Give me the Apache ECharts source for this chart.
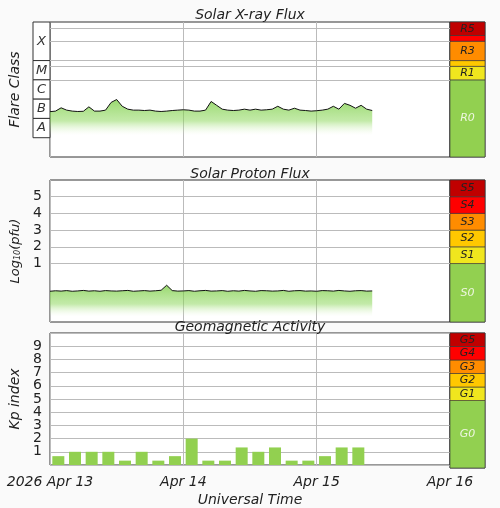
<!DOCTYPE html><html><head><meta charset="utf-8">
<script src="https://cdn.jsdelivr.net/npm/echarts@6/dist/echarts.min.js"></script>
<style>html,body{margin:0;background:#fafafa}#c{width:500px;height:508px}</style></head><body><div id="c"></div>
<script>
// hourly log10 X-ray flux (W/m2), from Apr 13 00 UT
const xrayLog=[-6.65,-6.62,-6.45,-6.57,-6.62,-6.64,-6.63,-6.4,-6.62,-6.62,-6.57,-6.17,-6.02,-6.37,-6.52,-6.57,-6.57,-6.59,-6.57,-6.62,-6.64,-6.62,-6.59,-6.57,-6.55,-6.57,-6.62,-6.62,-6.57,-6.12,-6.32,-6.52,-6.57,-6.59,-6.57,-6.52,-6.57,-6.52,-6.57,-6.55,-6.52,-6.37,-6.52,-6.57,-6.47,-6.57,-6.59,-6.62,-6.6,-6.57,-6.52,-6.37,-6.52,-6.22,-6.32,-6.47,-6.32,-6.52,-6.59];
const protonLog=[-0.66,-0.63,-0.65,-0.62,-0.66,-0.64,-0.61,-0.65,-0.63,-0.66,-0.62,-0.64,-0.65,-0.63,-0.61,-0.66,-0.64,-0.62,-0.65,-0.63,-0.6,-0.3,-0.62,-0.65,-0.64,-0.62,-0.66,-0.63,-0.61,-0.65,-0.64,-0.62,-0.66,-0.63,-0.65,-0.61,-0.64,-0.66,-0.62,-0.63,-0.65,-0.64,-0.61,-0.66,-0.63,-0.62,-0.65,-0.64,-0.66,-0.62,-0.63,-0.65,-0.61,-0.64,-0.66,-0.63,-0.62,-0.65,-0.64];
const kp=[0.67,1,1,1,0.33,1,0.33,0.67,2,0.33,0.33,1.33,1,1.33,0.33,0.33,0.67,1.33,1.33];
const dayLabels={0:'2026 Apr 13',24:'Apr 14',48:'Apr 15',72:'Apr 16'};
const rScale=[['R0',-9,-5,'#92d050'],['R1',-5,-4.3,'#f0e61e'],['',-4.3,-4,'#ffc800'],['R3',-4,-3,'#ff8c00'],['',-3,-2.7,'#ff0000'],['R5',-2.7,-2,'#c00000']];
const sScale=[['S0',-2.5,1,'#92d050'],['S1',1,2,'#f0e61e'],['S2',2,3,'#ffc800'],['S3',3,4,'#ff8c00'],['S4',4,5,'#ff0000'],['S5',5,6,'#c00000']];
const gScale=[['G0',0,5,'#92d050'],['G1',5,6,'#f0e61e'],['G2',6,7,'#ffc800'],['G3',7,8,'#ff8c00'],['G4',8,9,'#ff0000'],['G5',9,10,'#c00000']];
const flareBoxes=[['X',-4,-2],['M',-5,-4],['C',-6,-5],['B',-7,-6],['A',-8,-7]];
const xrayLines=[-2.3,-3,-4,-4.3,-5];
const protonLines=[1,2,3,4,5];

const ch=echarts.init(document.getElementById('c'));
const F='DejaVu Sans';
const panels=[[22,157],[180,322],[333,468]];
const grids=[],xAxes=[],yAxes=[],series=[];
panels.forEach((p,i)=>{
  grids.push({left:50,width:400,top:p[0],height:p[1]-p[0],show:true,backgroundColor:'#fff',borderColor:'#333',borderWidth:1});
  grids.push({left:450,width:35,top:p[0],height:p[1]-p[0],show:true,backgroundColor:'#fff',borderColor:'#333',borderWidth:1});
});
grids.push({left:33,width:17,top:22,height:135,show:false});
for(let i=0;i<3;i++){
  xAxes.push({gridIndex:2*i,type:'value',min:0,max:72,interval:24,axisLine:{show:false},axisTick:{show:false},
    splitLine:{show:true,lineStyle:{color:'#bbb'}},
    axisLabel:{show:i==2,formatter:v=>dayLabels[v]||'',fontFamily:F,fontSize:14,color:'#222',fontStyle:'italic',margin:10},
    name:i==2?'Universal Time':'',nameLocation:'middle',nameGap:28,nameTextStyle:{fontFamily:F,fontSize:14,fontStyle:'italic',color:'#222'}});
  xAxes.push({gridIndex:2*i+1,type:'value',min:0,max:1,show:false});
}
xAxes.push({gridIndex:6,type:'value',min:0,max:1,show:false});
const ycommon={axisLine:{show:false},axisTick:{show:false},nameLocation:'middle',nameRotate:90,nameTextStyle:{fontFamily:F,fontSize:14,fontStyle:'italic',color:'#222'}};
yAxes.push(Object.assign({gridIndex:0,type:'value',min:-9,max:-2,axisLabel:{show:false},splitLine:{show:false},name:'Flare Class',nameGap:28},ycommon));
yAxes.push({gridIndex:1,type:'value',min:-9,max:-2,show:false});
yAxes.push(Object.assign({gridIndex:2,type:'value',min:-2.5,max:6,interval:0.5,splitLine:{show:false},
  axisLabel:{formatter:v=>(v>=1&&v<=5&&v%1===0)?String(v):'',fontFamily:F,fontSize:14,color:'#222',margin:8},
  name:'Log{s|10}(pfu)',nameGap:26},ycommon,{nameTextStyle:{fontFamily:F,fontSize:13,fontStyle:'italic',color:'#222',rich:{s:{fontSize:8,fontStyle:'italic',color:'#222',verticalAlign:'bottom'}}}}));
yAxes.push({gridIndex:3,type:'value',min:-2.5,max:6,show:false});
yAxes.push(Object.assign({gridIndex:4,type:'value',min:0,max:10,interval:1,splitLine:{show:true,lineStyle:{color:'#bbb'}},
  axisLabel:{formatter:v=>(v>=1&&v<=9)?String(v):'',fontFamily:F,fontSize:14,color:'#222',margin:8},
  name:'Kp index',nameGap:26},ycommon));
yAxes.push({gridIndex:5,type:'value',min:0,max:10,show:false});
yAxes.push({gridIndex:6,type:'value',min:-9,max:-2,show:false});

function grad(stop){return new echarts.graphic.LinearGradient(0,0,0,1,[{offset:0,color:'rgba(110,200,50,1)'},{offset:stop*0.6,color:'rgba(140,215,90,0.75)'},{offset:stop,color:'rgba(220,245,200,0)'},{offset:1,color:'rgba(255,255,255,0)'}]);}
function hline(vals){return {silent:true,symbol:'none',label:{show:false},lineStyle:{color:'#bbb',type:'solid',width:1},data:vals.map(v=>({yAxis:v}))};}
series.push({type:'line',xAxisIndex:0,yAxisIndex:0,data:xrayLog.map((v,h)=>[h,v]),symbol:'none',lineStyle:{color:'#111',width:1},
  areaStyle:{origin:'start',color:grad(0.62)},markLine:hline(xrayLines),z:3});
series.push({type:'line',xAxisIndex:2,yAxisIndex:2,data:protonLog.map((v,h)=>[h,v]),symbol:'none',lineStyle:{color:'#111',width:1},
  areaStyle:{origin:'start',color:grad(0.85)},markLine:hline(protonLines),z:3});
series.push({type:'bar',xAxisIndex:4,yAxisIndex:4,data:kp.map((v,i)=>[i*3+1.5,v]),barWidth:12,itemStyle:{color:'#92d050'}});
function scaleSeries(xi,sc){return {type:'line',xAxisIndex:xi,yAxisIndex:xi,data:[],markArea:{silent:true,data:sc.map(s=>[{yAxis:s[1],itemStyle:{color:s[3],borderColor:'#333',borderWidth:0.6},
  label:{show:s[0]!=='',position:'inside',formatter:s[0]||' ',fontFamily:F,fontSize:11,fontStyle:'italic',color:s[0].endsWith('0')?'#eef6e0':'#222'}},{yAxis:s[2]}])}};}
series.push(scaleSeries(1,rScale),scaleSeries(3,sScale),scaleSeries(5,gScale));
series.push({type:'line',xAxisIndex:6,yAxisIndex:6,data:[],markArea:{silent:true,data:flareBoxes.map(b=>[{yAxis:b[1],itemStyle:{color:'#fff',borderColor:'#333',borderWidth:1},
  label:{show:true,position:'inside',formatter:b[0],fontFamily:F,fontSize:13,fontStyle:'italic',color:'#333'}},{yAxis:b[2]}])}});
ch.setOption({animation:false,backgroundColor:'#fafafa',
  title:[['Solar X-ray Flux',3],['Solar Proton Flux',162],['Geomagnetic Activity',315]].map(t=>({text:t[0],left:'center',top:t[1],textStyle:{fontFamily:F,fontSize:14,fontWeight:'normal',fontStyle:'italic',color:'#222'}})),
  grid:grids,xAxis:xAxes,yAxis:yAxes,series:series});
</script></body></html>
